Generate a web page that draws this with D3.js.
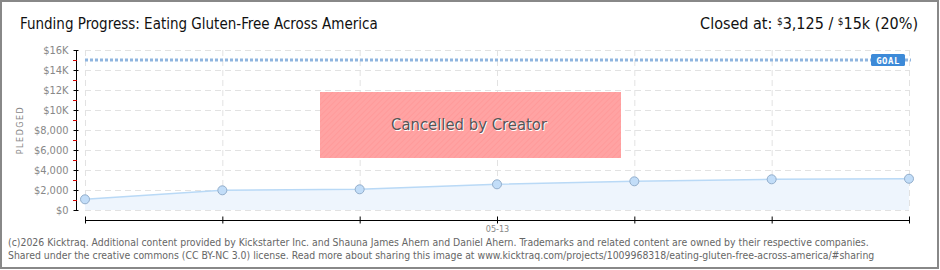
<!DOCTYPE html>
<html>
<head>
<meta charset="utf-8">
<script src="https://d3js.org/d3.v7.min.js"></script>
<style>
  body { margin: 0; background: #fff; }
  svg { display: block; }
</style>
</head>
<body>
<svg id="chart" width="940" height="270"></svg>
<script>
/* Values */
var days = ["05-10", "05-11", "05-12", "05-13", "05-14", "05-15", "05-16"];
var pledged = [1070, 1970, 2070, 2570, 2870, 3070, 3125];
var yTicks = [0, 2000, 4000, 6000, 8000, 10000, 12000, 14000, 16000];
var yTickLabels = ["$0", "$2,000", "$4,000", "$6,000", "$8,000", "$10K", "$12K", "$14K", "$16K"];
var goal = 15000;
var shownDays = ["05-13"];

var svg = d3.select("#chart");

/* stripes for the cancelled box */
var defs = svg.append("defs");
var pat = defs.append("pattern")
  .attr("id", "stripes")
  .attr("width", 4).attr("height", 4)
  .attr("patternUnits", "userSpaceOnUse")
  .attr("patternTransform", "rotate(45)");
pat.append("rect").attr("width", 4).attr("height", 4).attr("fill", "#ffa3a3");
pat.append("rect").attr("width", 1).attr("height", 4).attr("fill", "#ff9a9a");

// frame
svg.append("rect")
  .attr("x", 1).attr("y", 1).attr("width", 937).attr("height", 267)
  .attr("fill", "none").attr("stroke", "#888").attr("stroke-width", 2);

var x = d3.scalePoint().domain(days).range([85, 909]);
var y = d3.scaleLinear().domain([0, 16000]).range([210, 50]);

/* grid */
svg.append("g").selectAll("line").data(yTicks).enter().append("line")
  .attr("x1", 85).attr("x2", 909)
  .attr("y1", function(d) { return y(d) + 0.5; })
  .attr("y2", function(d) { return y(d) + 0.5; })
  .attr("stroke", "#e2e2e2").attr("stroke-dasharray", "6,4");

svg.append("g").selectAll("line").data(days).enter().append("line")
  .attr("x1", function(d) { return x(d) + 0.5; })
  .attr("x2", function(d) { return x(d) + 0.5; })
  .attr("y1", 50).attr("y2", 210)
  .attr("stroke", "#e2e2e2").attr("stroke-dasharray", "6,4");

/* area + line */
var area = d3.area()
  .x(function(d, i) { return x(days[i]); })
  .y0(y(0))
  .y1(function(d) { return y(d); });
svg.append("path").datum(pledged).attr("d", area).attr("fill", "#eef5fd");

var line = d3.line()
  .x(function(d, i) { return x(days[i]); })
  .y(function(d) { return y(d); });
svg.append("path").datum(pledged).attr("d", line)
  .attr("fill", "none").attr("stroke", "#b9d9f6").attr("stroke-width", 1.5);

/* goal */
svg.append("line")
  .attr("x1", 85).attr("x2", 911)
  .attr("y1", y(goal)).attr("y2", y(goal))
  .attr("stroke", "#8fb5df").attr("stroke-width", 3)
  .attr("stroke-dasharray", "3,2");
svg.append("rect")
  .attr("x", 871).attr("y", y(goal) - 6).attr("width", 34).attr("height", 12)
  .attr("rx", 1.5).attr("fill", "#3d8ad8");
svg.append("text")
  .attr("x", 888).attr("y", y(goal) + 3.5)
  .attr("text-anchor", "middle")
  .attr("font-family", "DejaVu Sans Mono, monospace").attr("font-size", 9)
  .attr("font-weight", "bold").attr("fill", "#fff").attr("letter-spacing", 0.5)
  .text("GOAL");

/* points */
svg.append("g").selectAll("circle").data(pledged).enter().append("circle")
  .attr("cx", function(d, i) { return x(days[i]); })
  .attr("cy", function(d) { return y(d); })
  .attr("r", 4.5)
  .attr("fill", "#c2ddf8").attr("stroke", "#93aecb").attr("stroke-width", 1);

/* cancelled box */
svg.append("rect")
  .attr("x", 320).attr("y", 92).attr("width", 301).attr("height", 66)
  .attr("fill", "url(#stripes)");
svg.append("text")
  .attr("x", 470).attr("y", 131)
  .attr("text-anchor", "middle")
  .attr("font-family", "DejaVu Sans Condensed, sans-serif")
  .attr("font-size", 16.5).attr("fill", "#fff")
  .text("Cancelled by Creator");
svg.append("text")
  .attr("x", 469).attr("y", 130)
  .attr("text-anchor", "middle")
  .attr("font-family", "DejaVu Sans Condensed, sans-serif")
  .attr("font-size", 16.5).attr("fill", "#555")
  .text("Cancelled by Creator");

/* y axis */
var yAxis = d3.axisLeft(y)
  .tickValues(yTicks)
  .tickSize(4)
  .tickFormat(function(d, i) { return yTickLabels[i]; });
var gy = svg.append("g").attr("transform", "translate(76.5,0)").call(yAxis);
gy.select(".domain").attr("stroke", "#000").attr("d", "M0,50V210");
gy.selectAll(".tick line").attr("x1", -3).attr("x2", 2).attr("stroke", "#000");
gy.selectAll(".tick text")
  .attr("x", -8)
  .attr("font-family", "DejaVu Sans Condensed, sans-serif")
  .attr("font-size", 11).attr("fill", "#888");

var minor = d3.range(1000, 16000, 2000);
svg.append("g").selectAll("line").data(minor).enter().append("line")
  .attr("x1", 73).attr("x2", 77)
  .attr("y1", function(d) { return y(d) + 0.5; })
  .attr("y2", function(d) { return y(d) + 0.5; })
  .attr("stroke", "#d00000");

svg.append("text")
  .attr("transform", "translate(23,130) rotate(-90)")
  .attr("text-anchor", "middle")
  .attr("font-family", "DejaVu Sans, sans-serif")
  .attr("font-size", 8).attr("letter-spacing", 1.5).attr("fill", "#888")
  .text("PLEDGED");

/* x axis */
var xAxis = d3.axisBottom(x)
  .tickSize(4)
  .tickFormat(function(d) { return shownDays.indexOf(d) >= 0 ? d : ""; });
var gx = svg.append("g").attr("transform", "translate(0,220.5)").call(xAxis);
gx.select(".domain").attr("stroke", "#000").attr("d", "M85,0H910");
gx.selectAll(".tick line").attr("y1", -4).attr("y2", 3).attr("stroke", "#000");
gx.selectAll(".tick text")
  .attr("y", 5)
  .attr("font-family", "DejaVu Sans Condensed, sans-serif")
  .attr("font-size", 9).attr("fill", "#888");

/* title */
svg.append("text")
  .attr("x", 20).attr("y", 29)
  .attr("font-family", "DejaVu Sans Condensed, sans-serif")
  .attr("font-size", 15).attr("fill", "#111")
  .text("Funding Progress: Eating Gluten-Free Across America");

var closedAt = svg.append("text")
  .attr("x", 918).attr("y", 29)
  .attr("text-anchor", "end")
  .attr("font-family", "DejaVu Sans Condensed, sans-serif")
  .attr("font-size", 16).attr("fill", "#111");
closedAt.append("tspan").text("Closed at:  ");
closedAt.append("tspan").attr("font-size", 10).attr("dy", -4).text("$");
closedAt.append("tspan").attr("dy", 4).text("3,125 /  ");
closedAt.append("tspan").attr("font-size", 10).attr("dy", -4).text("$");
closedAt.append("tspan").attr("dy", 4).text("15k (20%)");

/* footer */
var foot = svg.append("text")
  .attr("font-family", "DejaVu Sans Condensed, sans-serif")
  .attr("font-size", 10.4).attr("fill", "#666");
foot.append("tspan").attr("x", 8).attr("y", 246)
  .text("(c)2026 Kicktraq. Additional content provided by Kickstarter Inc. and Shauna James Ahern and Daniel Ahern. Trademarks and related content are owned by their respective companies.");
foot.append("tspan").attr("x", 8).attr("y", 259)
  .text("Shared under the creative commons (CC BY-NC 3.0) license. Read more about sharing this image at www.kicktraq.com/projects/1009968318/eating-gluten-free-across-america/#sharing");
</script>
</body>
</html>
